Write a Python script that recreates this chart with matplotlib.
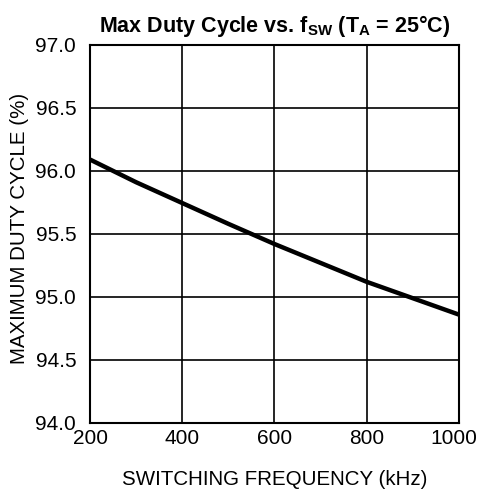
import numpy as np
import matplotlib.pyplot as plt
from matplotlib.transforms import ScaledTranslation

plt.rcParams['font.family'] = ['Liberation Sans', 'DejaVu Sans']
plt.rcParams['mathtext.fontset'] = 'custom'
plt.rcParams['mathtext.rm'] = 'Liberation Sans'
plt.rcParams['mathtext.bf'] = 'Liberation Sans:bold'
plt.rcParams['mathtext.it'] = 'Liberation Sans:italic'

# valores
freq_khz = [200, 300, 400, 500, 600, 700, 800, 900, 1000]
duty_pct = [96.09, 95.91, 95.745, 95.58, 95.42, 95.27, 95.12, 94.99, 94.86]

x_ticks = [200, 400, 600, 800, 1000]
y_ticks = [94.0, 94.5, 95.0, 95.5, 96.0, 96.5, 97.0]

fig = plt.figure(figsize=(4.79, 4.93), dpi=100)
ax = fig.add_axes([0.188, 0.142, 0.770, 0.767])

ax.plot(freq_khz, duty_pct, color='black', linewidth=3.2, solid_capstyle='butt')

ax.set_xlim(200, 1000)
ax.set_ylim(94.0, 97.0)
ax.set_xticks(x_ticks)
ax.set_yticks(y_ticks)
ax.set_yticklabels([f'{v:.1f}' for v in y_ticks])
ax.tick_params(length=0, labelsize=15)
ax.tick_params(axis='y', pad=10)
ax.tick_params(axis='x', pad=4)
ax.grid(color='black', linewidth=1.2)
for s in ax.spines.values():
    s.set_linewidth(1.5)

# o ultimo rotulo (1000) fica um pouco para a esquerda, como no original
ultimo = ax.get_xticklabels()[-1]
ultimo.set_transform(ultimo.get_transform() + ScaledTranslation(-4/72, 0, fig.dpi_scale_trans))

ax.set_xlabel('SWITCHING FREQUENCY (kHz)', fontsize=14.8, labelpad=16)
ax.set_ylabel('MAXIMUM DUTY CYCLE (%)', fontsize=14.8)
ax.yaxis.set_label_coords(-0.166, 0.515)
ax.set_title(r'Max Duty Cycle vs. f$_{\mathbf{SW}}$ (T$_{\mathbf{A}}$ = 25°C)',
             fontsize=15.5, fontweight='bold', pad=9)

plt.savefig('out.png', dpi=100)
